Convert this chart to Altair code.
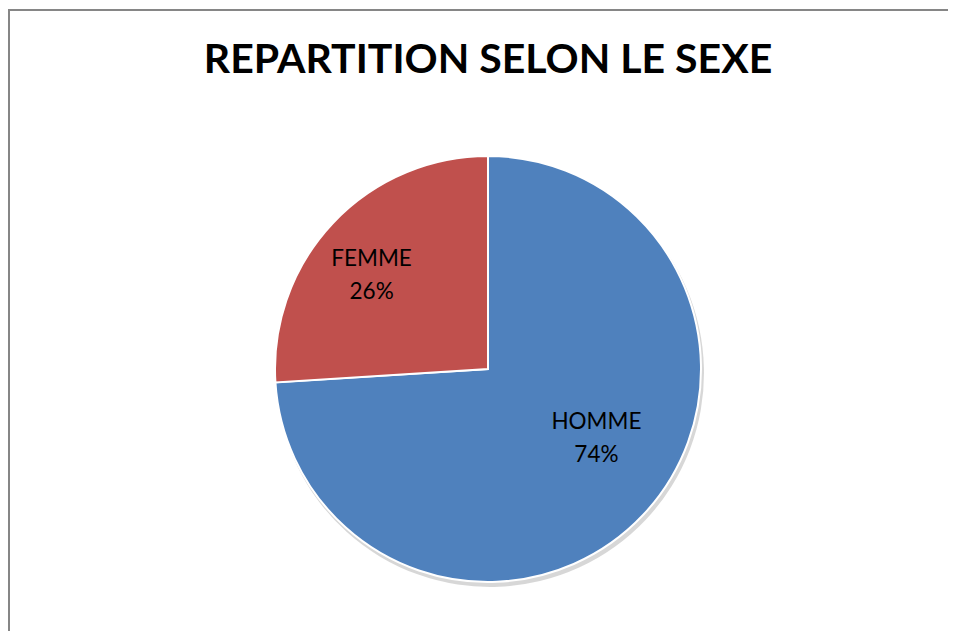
import altair as alt
import pandas as pd

categories = ["HOMME", "FEMME"]
values = [74, 26]
labels = ["74%", "26%"]
title_text = ["REPARTITION SELON LE SEXE"]

df = pd.DataFrame({"cat": categories, "val": values, "lab": labels, "order": [0, 1]})
tdf = pd.DataFrame({"t": title_text})

W, H = 940, 621
CX, CY, R = 480, 359, 213

color = alt.Color("cat:N", scale=alt.Scale(domain=categories, range=["#4F81BD", "#C0504D"]), legend=None)
theta = alt.Theta("val:Q", stack=True)
order = alt.Order("order:Q")

base = alt.Chart(df)

shadow = base.mark_arc(outerRadius=R + 1, color="#9a9a9a", opacity=0.4).encode(
    theta=theta, order=order, x=alt.value(CX + 2), y=alt.value(CY + 4)
)

pie = base.mark_arc(outerRadius=R, stroke="white", strokeWidth=2).encode(
    theta=theta, color=color, order=order, x=alt.value(CX), y=alt.value(CY)
)

def label_layer(cat, dx, dy):
    b = base.transform_calculate(txt="[datum.cat, datum.lab]")
    return b.mark_text(radius=135, fontSize=22.5, font="Lato", color="black",
                       lineHeight=33, dx=dx, dy=dy, baseline="middle").encode(
        theta=theta, order=order, x=alt.value(CX), y=alt.value(CY),
        text=alt.Text("txt:N"),
        opacity=alt.condition(alt.datum.cat == cat, alt.value(1), alt.value(0)),
    )

lab_h = label_layer("HOMME", 10, -39)
lab_f = label_layer("FEMME", -18, -18)

title = alt.Chart(tdf).mark_text(fontSize=41, fontWeight="bold", font="Lato", color="black",
                                  baseline="middle").encode(
    text="t:N", x=alt.value(CX), y=alt.value(51)
)

left_border = alt.Chart(tdf).mark_rule(color="#868686", strokeWidth=2).encode(
    x=alt.value(1), y=alt.value(0), y2=alt.value(H)
)
top_border = alt.Chart(tdf).mark_rule(color="#868686", strokeWidth=2).encode(
    x=alt.value(0), x2=alt.value(W), y=alt.value(0)
)

chart = alt.layer(shadow, pie, lab_h, lab_f, title, left_border, top_border).properties(
    width=W, height=H, padding={"left": 0, "top": 2, "right": 0, "bottom": 0},
    autosize=alt.AutoSizeParams(type="none")
).configure_view(strokeWidth=0)

chart.save("out.html", embed_options={"renderer": "svg", "actions": False})
